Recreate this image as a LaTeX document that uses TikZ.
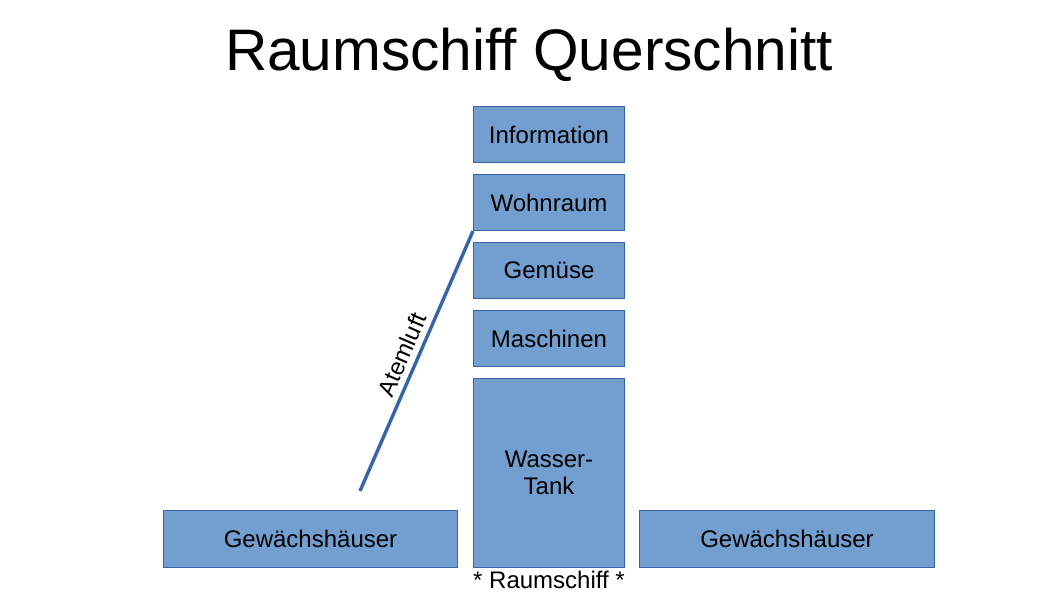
\documentclass[tikz,border=0pt]{standalone}
\usepackage{fontspec}
\setmainfont{Liberation Sans}
\definecolor{boxfill}{HTML}{729FCF}
\definecolor{boxline}{HTML}{3465A4}
\begin{document}
\begin{tikzpicture}[x=1pt,y=1pt,
  room/.style={draw=boxline, fill=boxfill, line width=1pt, inner sep=0pt, anchor=north west,
    font=\fontsize{24}{27}\selectfont, align=center, text=black},
  conn/.style={draw=boxline, line width=3.4pt}]
\useasboundingbox (0,0) rectangle (1058,-595);
\node[anchor=base, font=\fontsize{58.6}{64}\selectfont] (title) at (529,-70) {Raumschiff Querschnitt};
\node[room, minimum width=151pt, minimum height=56pt] (info) at (473,-106) {Information};
\node[room, minimum width=151pt, minimum height=56pt] (wohn) at (473,-174) {Wohnraum};
\node[room, minimum width=151pt, minimum height=56pt] (gem) at (473,-242) {Gemüse};
\node[room, minimum width=151pt, minimum height=56pt] (masch) at (473,-310) {Maschinen};
\node[room, minimum width=151pt, minimum height=189pt] (tank) at (473,-378) {Wasser-\\Tank};
\node[room, minimum width=294pt, minimum height=57pt] (gl) at (163,-510) {Gewächshäuser};
\node[room, minimum width=295pt, minimum height=57pt] (gr) at (639,-510) {Gewächshäuser};
\node[anchor=base, font=\fontsize{24}{27}\selectfont] (ship) at (549,-588) {* Raumschiff *};
\coordinate (luftend) at (360,-491);
\draw[conn] (luftend) -- node[midway, above=2pt, sloped, font=\fontsize{24}{27}\selectfont, text=black] (luft) {Atemluft} (wohn.south west);
\end{tikzpicture}
\end{document}
